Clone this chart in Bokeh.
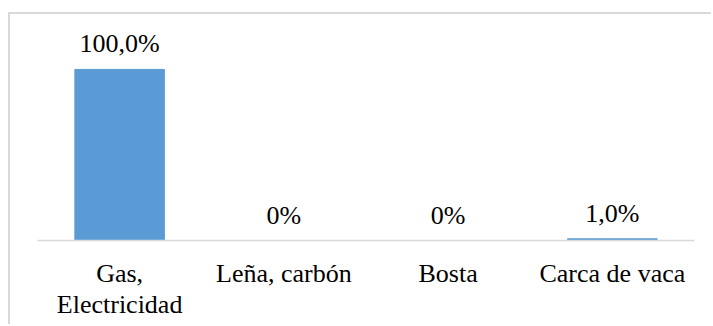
from bokeh.plotting import figure
from bokeh.models import ColumnDataSource, FactorRange, Range1d, LabelSet
from bokeh.core.properties import value
from bokeh.embed import file_html
from bokeh.resources import INLINE

# Fuel used for cooking, share of households
categories = ["Gas,\nElectricidad", "Leña, carbón", "Bosta", "Carca de vaca"]
shares = [100.0, 0.0, 0.0, 1.0]
share_labels = ["100,0%", "0%", "0%", "1,0%"]

FONT = "Liberation Serif"
FONT_SIZE = "26px"
BAR_COLOR = "#5b9bd5"
GRID_GRAY = "#d9d9d9"

source = ColumnDataSource(data=dict(cat=categories, share=shares, label=share_labels))

p = figure(
    x_range=FactorRange(*categories, range_padding=0),
    y_range=Range1d(0, 125.1),
    width=703,
    height=312,
    output_backend="svg",
    toolbar_location=None,
    min_border_left=27,
    min_border_right=19,
    min_border_top=12,
    min_border_bottom=86,
    margin=(12, 0, 0, 8),
    styles={"border-top": f"2px solid {GRID_GRAY}", "border-left": f"2px solid {GRID_GRAY}"},
)

p.vbar(x="cat", top="share", width=0.545, source=source,
       fill_color=BAR_COLOR, line_color=BAR_COLOR)

labels = LabelSet(x="cat", y="share", text="label", source=source,
                  text_align="center", text_baseline="alphabetic", y_offset=17,
                  text_font=value(FONT), text_font_size=value(FONT_SIZE),
                  text_color="#000000")
p.add_layout(labels)

# Category axis: only the baseline and the labels
xa = p.xaxis[0]
xa.axis_line_color = GRID_GRAY
xa.axis_line_width = 1.5
xa.major_tick_line_color = None
xa.minor_tick_line_color = None
xa.major_label_text_font = FONT
xa.major_label_text_font_size = FONT_SIZE
xa.major_label_text_line_height = 1.08
xa.major_label_text_color = "#000000"
xa.major_label_standoff = 12

p.yaxis.visible = False
p.grid.visible = False
p.outline_line_color = None
p.background_fill_color = "white"
p.border_fill_color = "white"

open("out.html", "w").write(file_html(p, INLINE))
